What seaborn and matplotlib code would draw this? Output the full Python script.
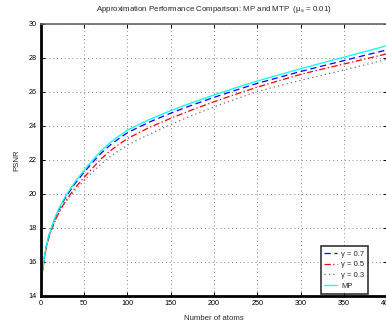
import matplotlib
matplotlib.use("Agg")
import matplotlib.pyplot as plt
import seaborn as sns
import numpy as np
import pandas as pd

atoms = [1, 2, 4, 6, 8, 10, 15, 20, 25, 30, 40, 50, 60, 70, 80, 90, 100,
         125, 150, 175, 200, 225, 250, 275, 300, 325, 350, 375, 400]
psnr_mp = [15.0, 15.5, 16.3, 16.9, 17.35, 17.7, 18.45, 19.05, 19.55, 20.0, 20.75, 21.4,
           22.0, 22.56, 23.02, 23.4, 23.75, 24.37, 24.9, 25.37, 25.82, 26.24, 26.64, 27.0,
           27.36, 27.7, 28.04, 28.38, 28.72]
psnr_g07 = [15.0, 15.49, 16.28, 16.87, 17.32, 17.66, 18.4, 18.99, 19.48, 19.92, 20.65, 21.28,
            21.87, 22.42, 22.87, 23.25, 23.6, 24.22, 24.75, 25.23, 25.68, 26.1, 26.5, 26.85,
            27.2, 27.52, 27.84, 28.16, 28.47]
psnr_g05 = [15.0, 15.47, 16.24, 16.8, 17.22, 17.55, 18.25, 18.82, 19.29, 19.7, 20.39, 20.98,
            21.54, 22.08, 22.53, 22.91, 23.26, 23.9, 24.45, 24.95, 25.42, 25.86, 26.28, 26.66,
            27.03, 27.34, 27.64, 27.94, 28.24]
psnr_g03 = [15.0, 15.48, 16.25, 16.82, 17.25, 17.58, 18.27, 18.83, 19.25, 19.62, 20.25, 20.8,
            21.3, 21.78, 22.19, 22.54, 22.87, 23.5, 24.08, 24.62, 25.12, 25.58, 26.02, 26.36,
            26.68, 26.98, 27.29, 27.6, 27.92]
labels = ["\u03b3 = 0.7", "\u03b3 = 0.5", "\u03b3 = 0.3", "MP"]

sns.set_style("white")
plt.rcParams['font.family'] = ['Liberation Sans', 'DejaVu Sans']
plt.rcParams['mathtext.fontset'] = 'custom'
plt.rcParams['mathtext.rm'] = 'Liberation Sans'
plt.rcParams['mathtext.it'] = 'Liberation Sans'

fig = plt.figure(figsize=(3.86, 3.27), dpi=100)
ax = fig.add_axes([0.106, 0.095, 0.897, 0.832])

series = [psnr_g07, psnr_g05, psnr_g03, psnr_mp]
colors = ["#0000ff", "#ff0000", "#707070", "#00ffff"]
styles = [(0, (5, 3)), (0, (5, 2, 1, 2)), (0, (1, 2.5)), "-"]
for vals, lab, c, ls in zip(series, labels, colors, styles):
    sns.lineplot(x=atoms, y=vals, ax=ax, color=c, linestyle=ls, linewidth=0.9, label=lab)

ax.set_xlim(0, 400)
ax.set_ylim(14, 30)
ax.set_xticks(np.arange(0, 401, 50))
ax.set_yticks(np.arange(14, 31, 2))
ax.grid(True, linestyle=(0, (1, 3)), color="#888888", linewidth=0.7)
ax.tick_params(direction="in", length=3, labelsize=5.2, colors="black", width=0.7,
               top=True, right=True, bottom=True, left=True)
ax.tick_params(axis="x", pad=3)
ax.tick_params(axis="y", pad=3)
for side in ["left", "bottom"]:
    ax.spines[side].set_linewidth(2.0)
    ax.spines[side].set_color("black")
for side in ["top", "right"]:
    ax.spines[side].set_linewidth(1.2)
    ax.spines[side].set_color("#666666")

ax.set_xlabel("Number of atoms", fontsize=5.6, labelpad=6)
ax.set_ylabel("PSNR", fontsize=5.6, labelpad=6)
ax.set_title("Approximation Performance Comparison: MP and MTP  ($\\mathregular{\\mu_s}$ = 0.01)",
             fontsize=5.7, pad=9)

leg = ax.legend(loc="lower right", bbox_to_anchor=(0.945, 0.008), fontsize=5.5,
                frameon=True, fancybox=False, handlelength=1.6, handletextpad=0.6,
                borderpad=0.5, labelspacing=0.45, borderaxespad=0.0)
leg.get_frame().set_edgecolor("black")
leg.get_frame().set_linewidth(1.2)

fig.savefig("out.png", dpi=100)
